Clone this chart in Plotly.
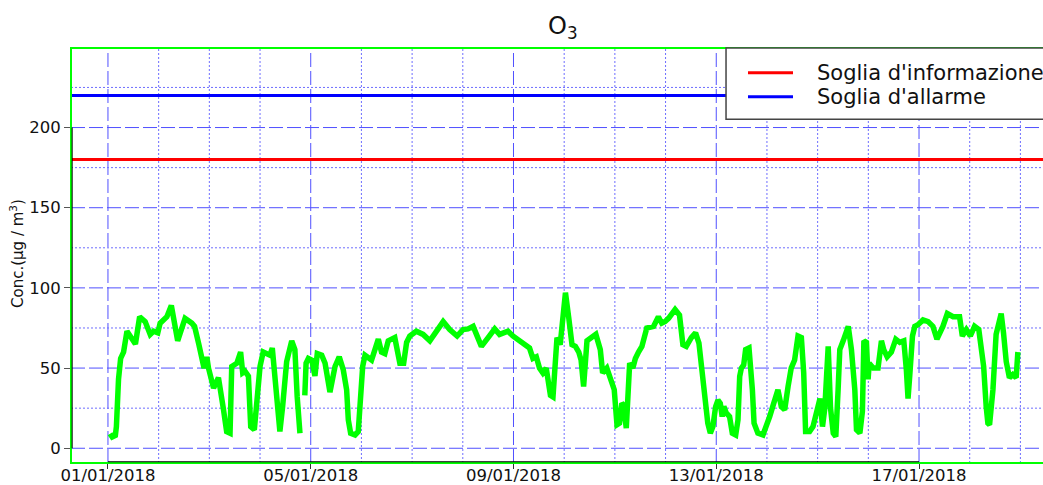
import plotly.graph_objects as go
import pandas as pd

# ---------------- data ----------------
TITLE = "O<sub>3</sub>"
Y_TITLE = "Conc.(µg / m<sup>3</sup>)"
START = "2018-01-01 00:00"

# hours since 01/01/2018 00:00 and hourly O3 concentration (µg/m3); None = missing data
HOURS = [1, 2, 3.5, 4, 5, 6, 7.4, 9, 10.5, 13, 15, 17.6, 20, 21.6, 23.6, 24.7, 27.9, 30, 33, 36.5,
         39.7, 41, 43, 44.4, 45.5, 46.8, 47.6, 50, 52.3, 54.6, 56.2, 57.8, 58.6, 61, 62.8, 63.8, 64.9,
         66.5, 67.6, 69.3, 70.7, 72, 73.5, 76.7, 77.8, 79.8, 81.4, 82.7, 84.6, 87, 88.5, 89.6, 90.9,
         92,
         93.2, 93.8, 94.9, 96.5, 98, 99.1, 101.2, 102.8, 105.1, 107.5, 109.5, 111.4, 113, 113.8, 114.9,
         117, 118.5, 119.3, 120.6, 121.7, 123.2, 124.8, 126.4, 128, 129.5, 131.1, 132.7, 135.8, 138.2,
         140, 141.4, 142.9, 146, 149.2, 152.4, 155.5, 158.7, 161.8, 165.3, 168.1, 170.5, 172.9, 176.8,
         180, 183.1, 185.4, 187.3, 189.4, 191.7, 194.9, 198, 199.6, 201.2, 202.8, 204.3, 205.9, 207.5,
         209.5, 210.7, 211.8, 212.6, 214.1, 215.5, 216.6, 218.1, 219.7, 221.3, 222.9, 224, 225.2, 226.8,
         228.7, 231, 233.1, 234.2, 236.2, 237.8, 239.7, 241, 242.2, 243.3, 244.1, 245.4, 246, 247, 248.5,
         249.7, 251.2, 252.8, 255.1, 258.3, 260.6, 262.2, 263.8, 265.4, 268.5, 270.6, 272.2, 273.8,
         276.2, 278.2, 279.8, 280.9, 282.5, 284, 285.2, 286.4, 287.7, 288.8, 289.9, 290.8, 291.6, 292.7,
         294.3, 295.6, 297.2, 298.3, 299.1, 299.9, 301, 301.9, 303.5, 304.3, 305.1, 305.9, 307.7, 310.1,
         311.7, 313.3, 315.2, 317.2, 318.8, 320.4, 322, 323.5, 325.1, 326.7, 328.3, 329.4, 330.3, 332.2,
         333.8, 335.4, 336, 337.1, 338.3, 339.4, 341, 342.1, 343.4, 344.6, 345.7, 346.5, 348.1, 350.5,
         352, 353.6, 354.4, 356, 357.2, 357.9, 359.1, 359.9, 360.4, 362.3, 364.6, 366.2, 367.3, 368.9,
         370.9, 373, 374.9, 376.8, 378, 378.8, 379.6, 380.9, 382, 383.5, 385.9, 388.3, 390.6, 392.5,
         395.3, 397.4, 400.1, 403.2, 404.5, 406.4, 408.3, 410.3, 412.3, 413.5, 414.6, 415.8, 416.6,
         417.4, 419, 420.5, 421.8, 422.9, 424, 425.3, 426.8, 428.4, 430, 430.8]
O3 = [9, 7, 8, 13.5, 43, 56, 60, 73, 70, 65, 82, 79, 71, 73, 72, 78, 82, 89, 67, 81,
      78, 76, 65, 57, 50, 57, 50, 37.5, 44, 25, 10.4, 9.4, 51, 53, 60, 47, 48,
      45, 13.5, 11.5, 32, 51, 60, 58, 62.5, 32, 10.4, 26, 54, 67, 61.5, 32, 9.4,
      None,
      33, 53, 56, 55, 45, 59, 58, 53, 35, 51, 57, 49, 36.5, 17.7, 9.4,
      8.3, 10.4, 32, 51, 58, 56, 55, 61.5, 68, 60, 59, 67, 69, 53,
      53, 66, 70, 73, 71, 67, 73, 79, 74, 70, 74, 74.4, 76, 63.5,
      69, 74.4, 71, 72, 73, 70, 67, 63.5, 62.5, 56, 57, 50, 47, 50,
      33, 32, 49, 69, 64.6, 88.5, 97, 82, 64.6, 63.5, 60, 55, 38.5, 67,
      69, 71, 61.5, 47, 50, 44, 36.5, 14.6, 15.6, 28, 27, 12.5, 32, 53, 50,
      56, 60, 63.5, 75, 76, 82, 78, 79, 81, 86.5, 83, 64.6, 63.5,
      69, 72, 65.6, 51, 30, 15.6, 9.4, 13.5, 26, 30, 28, 19.8, 26, 22,
      19.8, 9.4, 8.3, 17.7, 44.8, 50, 52, 61.5, 62.5, 52, 36.5, 15.6, 9.4, 8.3,
      13.5, 19.8, 28, 36.5, 26, 24, 38.5, 50, 55, 70, 69, 47, 10.4, 10.4,
      13.5, 22, 28, 31, 13.5, 25, 63.5, 25, 9.4, 7.3, 36.5, 61.5, 67, 76,
      61.5, 36.5, 11.5, 9.4, 23, 67, 66, 43, 53, 50, 50, 67, 61.5, 57,
      60, 68, 66, 67, 49, 31, 45, 70, 76, 77, 80, 79, 76, 68,
      76, 84, 82, 82, 70, 74, 70, 76, 74, 61.5, 51, 26, 15.6,
      14.6, 36.5, 71, 77, 84, 72, 54, 44, 46, 44, 60]

INFO_THRESHOLD = 180
ALARM_THRESHOLD = 220
LEGEND_LABELS = ["Soglia d'informazione", "Soglia d'allarme"]

X_TICK_DATES = ["2018-01-01", "2018-01-05", "2018-01-09", "2018-01-13", "2018-01-17"]
X_TICK_TEXT = ["01/01/2018", "05/01/2018", "09/01/2018", "13/01/2018", "17/01/2018"]
X_MINOR_DATES = ["2018-01-02", "2018-01-03", "2018-01-04", "2018-01-06", "2018-01-07", "2018-01-08",
                 "2018-01-10", "2018-01-11", "2018-01-12", "2018-01-14", "2018-01-15", "2018-01-16",
                 "2018-01-18", "2018-01-19"]
Y_TICKS = [0, 50, 100, 150, 200]
Y_MINOR_TICKS = [25, 75, 125, 175, 225]
X_RANGE_HOURS = [-17.5, 442.7]
Y_RANGE = [-9.2, 249.6]

# ---------------- figure ----------------
t0 = pd.Timestamp(START)
x_times = [t0 + pd.Timedelta(hours=h) for h in HOURS]
x_range = [t0 + pd.Timedelta(hours=h) for h in X_RANGE_HOURS]

FONT = "DejaVu Sans"
GREEN = "#00ff00"
GRID = "rgb(80,80,255)"
GRID_MINOR = "rgb(110,110,255)"
DASH = "14px,4px"
DOT = "2px,2px"

fig = go.Figure()
fig.add_trace(go.Scatter(
    x=x_times, y=O3, mode="lines",
    line=dict(color=GREEN, width=5.5),
    connectgaps=False, showlegend=False, hoverinfo="skip"))

fig.update_layout(
    width=1043, height=485,
    margin=dict(l=71, r=0, t=48, b=22, autoexpand=False),
    paper_bgcolor="white", plot_bgcolor="white",
    showlegend=False, hovermode=False, dragmode=False,
    title=dict(text=TITLE, x=0.506, xref="paper", xanchor="center",
               y=1 - 26 / 485, yref="container", yanchor="middle",
               font=dict(family=FONT, size=24, color="#111")),
)

fig.update_xaxes(
    type="date", range=x_range,
    tickmode="array", tickvals=[pd.Timestamp(d) for d in X_TICK_DATES], ticktext=X_TICK_TEXT,
    ticks="outside", ticklen=5, tickcolor="#333", tickwidth=1,
    ticklabelstandoff=-8,
    tickfont=dict(family=FONT, size=16.5, color="#111"),
    showgrid=False, showline=False, zeroline=False, automargin=False, showspikes=False,
)
fig.update_yaxes(
    range=Y_RANGE, tickmode="array", tickvals=Y_TICKS,
    ticks="outside", ticklen=6, tickcolor="#555", tickwidth=1,
    tickfont=dict(family=FONT, size=16.5, color="#111"),
    showgrid=False, showline=False, zeroline=False, automargin=False, showspikes=False,
)

# grid lines (dashed at labelled ticks, dotted in between)
for d in X_TICK_DATES:
    fig.add_shape(type="line", xref="x", x0=pd.Timestamp(d), x1=pd.Timestamp(d), yref="paper", y0=0, y1=1,
                  line=dict(color=GRID, width=1, dash=DASH), layer="below")
for d in X_MINOR_DATES:
    fig.add_shape(type="line", xref="x", x0=pd.Timestamp(d), x1=pd.Timestamp(d), yref="paper", y0=0, y1=1,
                  line=dict(color=GRID_MINOR, width=1, dash=DOT), layer="below")
for v in Y_TICKS:
    fig.add_shape(type="line", xref="paper", x0=0, x1=1, yref="y", y0=v, y1=v,
                  line=dict(color=GRID, width=1, dash=DASH), layer="below")
for v in Y_MINOR_TICKS:
    fig.add_shape(type="line", xref="paper", x0=0, x1=1, yref="y", y0=v, y1=v,
                  line=dict(color=GRID_MINOR, width=1, dash=DOT), layer="below")

# threshold lines
fig.add_shape(type="line", xref="paper", x0=0, x1=1, yref="y", y0=INFO_THRESHOLD, y1=INFO_THRESHOLD,
              line=dict(color="#ff0000", width=3), layer="above")
fig.add_shape(type="line", xref="paper", x0=0, x1=1, yref="y", y0=ALARM_THRESHOLD, y1=ALARM_THRESHOLD,
              line=dict(color="#0000ff", width=3), layer="above")

# green frame (left, top, bottom) and black axis lines
fig.add_shape(type="rect", xref="paper", yref="paper", x0=0, x1=1.02, y0=0, y1=1,
              line=dict(color=GREEN, width=2), fillcolor="rgba(0,0,0,0)", layer="above")
fig.add_shape(type="line", xref="paper", x0=0.0012, x1=0.0012, yref="y", y0=Y_TICKS[0], y1=Y_TICKS[-1],
              line=dict(color="black", width=1), layer="above")
fig.add_shape(type="line", xref="x", x0=pd.Timestamp(X_TICK_DATES[0]), x1=pd.Timestamp(X_TICK_DATES[-1]),
              yref="paper", y0=0.003, y1=0.003, line=dict(color="black", width=1), layer="above")

# legend box (drawn manually)
fig.add_shape(type="rect", xref="paper", yref="paper", x0=0.6739, x1=1.05, y0=0.8282, y1=1.0,
              line=dict(color="#444", width=1.5), fillcolor="white", layer="above")
legend_colors = ["#ff0000", "#0000ff"]
legend_y = [0.9405, 0.8827]
for lab, col, ly in zip(LEGEND_LABELS, legend_colors, legend_y):
    fig.add_shape(type="line", xref="paper", yref="paper", x0=0.6965, x1=0.7428, y0=ly, y1=ly,
                  line=dict(color=col, width=3), layer="above")
    fig.add_annotation(text=lab, xref="paper", yref="paper", x=0.7654, y=ly,
                       xanchor="left", yanchor="middle", showarrow=False,
                       font=dict(family=FONT, size=21, color="#111"))

# y-axis title
fig.add_annotation(text=Y_TITLE, xref="paper", yref="paper", x=-0.0556, y=0.506,
                   xanchor="center", yanchor="middle", textangle=-90, showarrow=False,
                   font=dict(family=FONT, size=15, color="#111"))

fig.write_html(
    "out.html",
    config={"displayModeBar": False, "staticPlot": True},
    post_script="document.body.style.margin='0';document.body.style.padding='0';"
                "document.body.style.overflow='hidden';",
)
